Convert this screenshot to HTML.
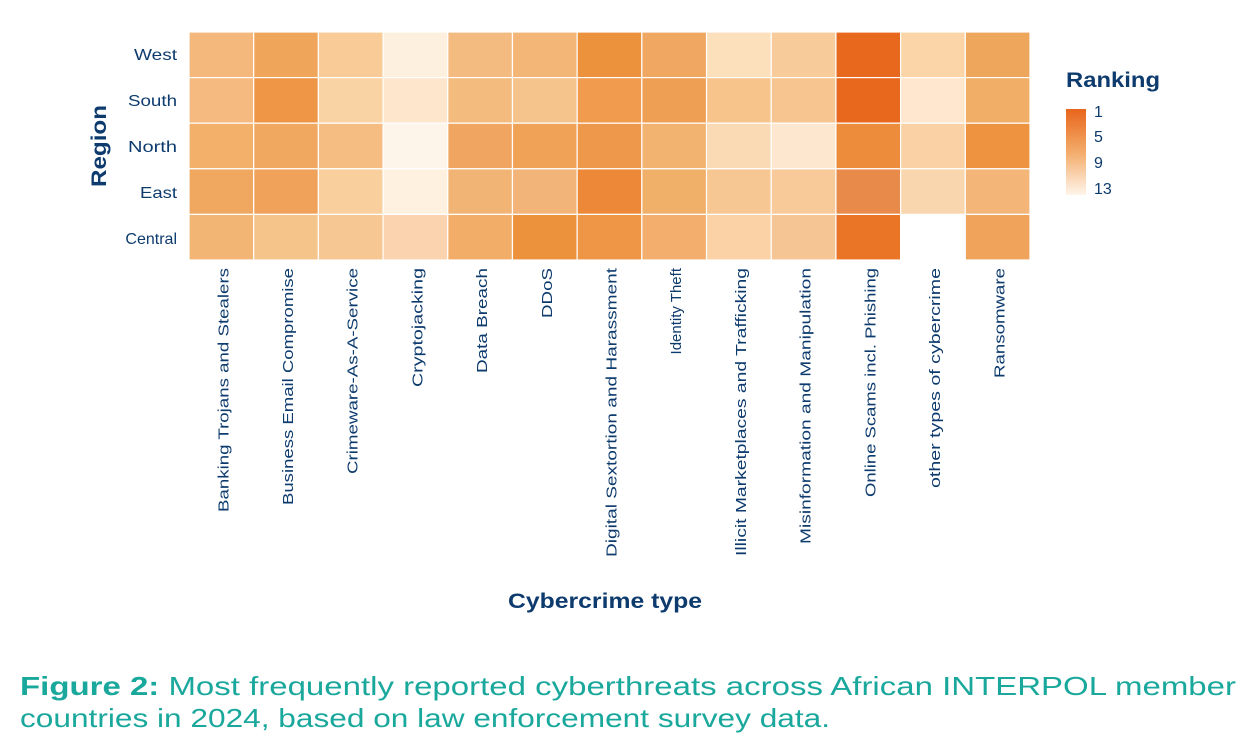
<!DOCTYPE html><html><head><meta charset="utf-8"><style>body{margin:0;background:#fff}svg{display:block}</style></head><body>
<svg width="1253" height="754" xmlns="http://www.w3.org/2000/svg" font-family="Liberation Sans, sans-serif">
<defs><linearGradient id="g" x1="0" y1="0" x2="0" y2="1"><stop offset="0" stop-color="#e8651c"/><stop offset="0.5" stop-color="#f3ab6a"/><stop offset="1" stop-color="#fff5ea"/></linearGradient></defs>
<g id="cells" stroke="#fff" stroke-width="1.2"></g>
<g font-size="16" fill="#0d3b6e" text-anchor="end">
<text x="177" y="60" textLength="43" lengthAdjust="spacingAndGlyphs">West</text><text x="177" y="106" textLength="49" lengthAdjust="spacingAndGlyphs">South</text><text x="177" y="152" textLength="49" lengthAdjust="spacingAndGlyphs">North</text><text x="177" y="198" textLength="37" lengthAdjust="spacingAndGlyphs">East</text><text x="177" y="244">Central</text></g>
<text transform="translate(106,146) rotate(-90)" text-anchor="middle" font-size="21" font-weight="bold" fill="#0d3b6e" textLength="82" lengthAdjust="spacingAndGlyphs">Region</text>
<g id="xl" font-size="15" fill="#0d3b6e" text-anchor="end"></g>
<text x="605" y="608" text-anchor="middle" font-size="21" font-weight="bold" fill="#0d3b6e" textLength="194" lengthAdjust="spacingAndGlyphs">Cybercrime type</text>
<text x="1066" y="87" font-size="21" font-weight="bold" fill="#0d3b6e" textLength="94" lengthAdjust="spacingAndGlyphs">Ranking</text>
<rect x="1066" y="109" width="20" height="86" fill="url(#g)"/>
<g font-size="16" fill="#0d3b6e"><text x="1094" y="117">1</text><text x="1094" y="142">5</text><text x="1094" y="168">9</text><text x="1094" y="194">13</text></g>
<text x="20" y="695" font-size="26" fill="#1aa89c" textLength="1216" lengthAdjust="spacingAndGlyphs"><tspan font-weight="bold">Figure 2:</tspan> Most frequently reported cyberthreats across African INTERPOL member</text>
<text x="20" y="727" font-size="26" fill="#1aa89c" textLength="810" lengthAdjust="spacingAndGlyphs">countries in 2024, based on law enforcement survey data.</text>
</svg>
<script>
var c=[["#f4b87c","#efa55a","#f9cb96","#fef0de","#f4bb80","#f3b677","#ed923c","#efa761","#fce0bc","#f8cb9a","#e8691e","#fbd4a8","#eea65c"],
["#f5ba80","#ef9646","#fad3a4","#fee6cd","#f4bb7e","#f5c38c","#f09b4e","#ef9f54","#f7c48c","#f6c590","#e8691e","#fee6cf","#f0ae66"],
["#f2b06a","#f0a860","#f6bd82","#fef5ea","#f0a660","#f0a257","#ee984c","#f2b371","#f9dab5","#fee7cf","#ed8c3b","#f9d1a4","#ee933f"],
["#f0a75f","#f0a25a","#f9cf9e","#fef1e0","#f2b474","#f2b478","#ec8837","#f0b06a","#f6c792","#f8c999","#e88a4a","#fad6ae","#f3b678"],
["#f3b573","#f5c48b","#f6c792","#fbd3ae","#f2ae69","#ed923c","#ee9546","#f3ad6c","#fad2a5","#f5c694","#ea7527","#ffffff","#efa35b"]];
var L=["Banking Trojans and Stealers","Business Email Compromise","Crimeware-As-A-Service","Cryptojacking","Data Breach","DDoS","Digital Sextortion and Harassment","Identity Theft","Illicit Marketplaces and Trafficking","Misinformation and Manipulation","Online Scams incl. Phishing","other types of cybercrime","Ransomware"];
var E=[512,505,474,387,373,318,557,358,556,544,497,488,378];
var ns="http://www.w3.org/2000/svg",g=document.getElementById("cells"),x=document.getElementById("xl"),w=841/13,h=45.6;
for(var r=0;r<5;r++)for(var k=0;k<13;k++){var e=document.createElementNS(ns,"rect");e.setAttribute("x",189+k*w);e.setAttribute("y",32+r*h);e.setAttribute("width",w);e.setAttribute("height",h);e.setAttribute("fill",c[r][k]);g.appendChild(e);}
for(var k=0;k<13;k++){var t=document.createElementNS(ns,"text");var cx=189+k*w+w/2+7;t.setAttribute("transform","translate("+cx+",268) rotate(-90)");if(k!=7){t.setAttribute("textLength",E[k]-268);t.setAttribute("lengthAdjust","spacingAndGlyphs");}t.textContent=L[k];x.appendChild(t);}
</script>
</body></html>
